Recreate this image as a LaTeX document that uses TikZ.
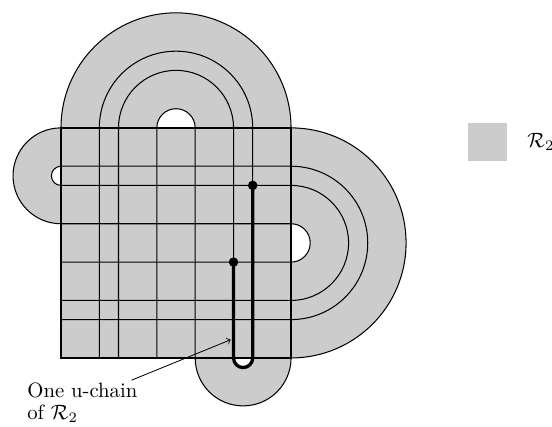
\documentclass[tikz,border=0pt]{standalone}
\usetikzlibrary{positioning}
\begin{document}
\begin{tikzpicture}[x=0.325cm, y=0.325cm,
  region/.style={fill=black!20},
  hole/.style={fill=white},
  strand/.style={line width=0.5pt},
  chain/.style={line width=1.6pt},
  dot/.style={circle, fill, inner sep=0pt, minimum size=4.6pt}]
\useasboundingbox (-3.18,-3.6) rectangle (25.61,18.67);

% the region R_2 with its four holes
\fill[region] (0,0) rectangle (12,12);
\fill[region] (0,12) arc (180:0:6) -- cycle;
\fill[region] (0,12) arc (90:270:2.5) -- cycle;
\fill[region] (12,12) arc (90:-90:6) -- cycle;
\fill[region] (7,0) arc (180:360:2.5) -- cycle;
\fill[hole] (5,12) arc (180:0:1) -- cycle;
\fill[hole] (0,10) arc (90:270:0.5) -- cycle;
\fill[hole] (12,7) arc (90:-90:1) -- cycle;
\fill[hole] (9,0) arc (180:360:0.5) -- cycle;

% outer boundary
\draw[strand] (0,12) arc (180:0:6);
\draw[strand] (0,12) arc (90:270:2.5);
\draw[strand] (12,12) arc (90:-90:6);
\draw[strand] (7,0) arc (180:360:2.5);

% strands
\draw[strand] (2,0) -- (2,12) arc (180:0:4) -- (10,0) arc (360:180:0.5) -- (9,12) arc (0:180:3) -- (3,0);
\draw[strand] (5,0) -- (5,12) arc (180:0:1) -- (7,0);
\draw[strand] (0,2) -- (12,2) arc (-90:90:4) -- (0,10) arc (90:270:0.5) -- (12,9) arc (90:-90:3) -- (0,3);
\draw[strand] (0,5) -- (12,5) arc (-90:90:1) -- (0,7);
\draw[line width=0.7pt] (0,0) rectangle (12,12);

% the u-chain
\node[dot] (uend) at (10,9) {};
\node[dot] (ustart) at (9,5) {};
\draw[chain] (ustart.center) -- (9,0) arc (180:360:0.5) -- (uend.center);

% label
\coordinate (tip) at (8.85,0.95);
\node[align=left, anchor=north west, inner sep=2pt] (lbl) at (-1.99,-1.05) {One u-chain\\[-1.2pt]of $\mathcal{R}_2$};
\draw[->, line width=0.4pt] ([xshift=-5pt,yshift=-1pt]lbl.north east) -- (tip);

% legend
\node[region, inner sep=0pt, minimum size=0.65cm] (key) at (22.25,11.25) {};
\node[right=0.22cm of key] (keylbl) {$\mathcal{R}_2$};
\end{tikzpicture}
\end{document}
